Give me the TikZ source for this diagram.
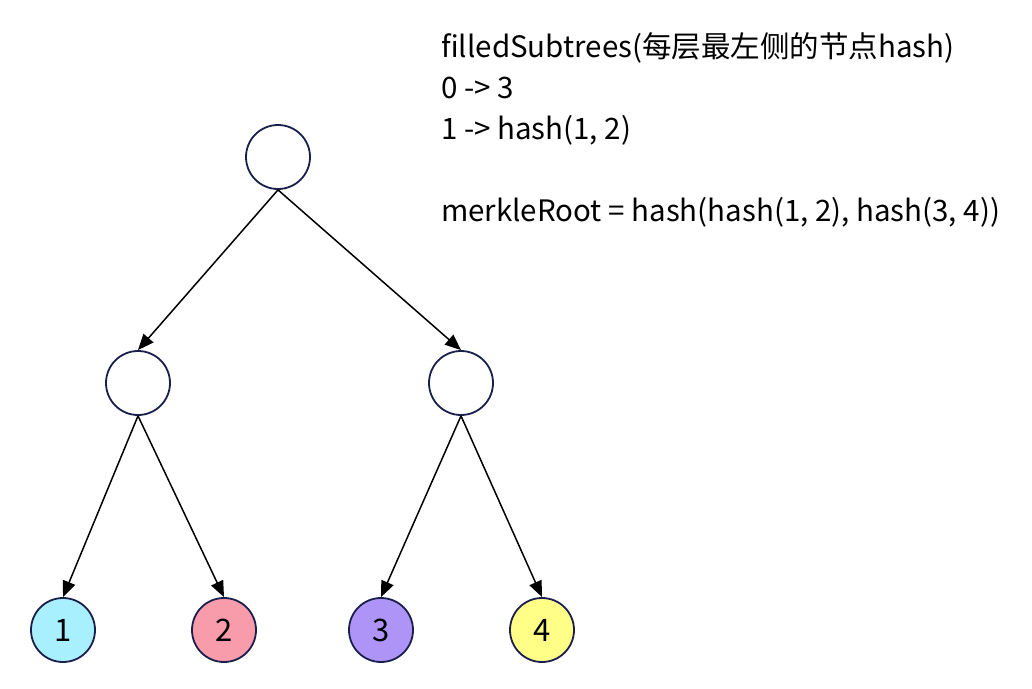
\documentclass[tikz,border=0pt]{standalone}
\usepackage{fontspec}
\setmainfont{Noto Sans CJK SC}
\usetikzlibrary{arrows.meta,shapes.geometric}

\definecolor{rim}{HTML}{1B1F4B}
\definecolor{leafA}{HTML}{A9F0FF}
\definecolor{leafB}{HTML}{F89CAC}
\definecolor{leafC}{HTML}{AE94F6}
\definecolor{leafD}{HTML}{FFFF88}

\tikzset{
    hnode/.style={draw=rim, line width=1.8pt, circle, minimum size=64pt, inner sep=0pt},
    leaf/.style={hnode, font=\fontsize{31}{36}\selectfont},
    edge/.style={line width=1.5pt, -{Triangle[length=16pt,width=13pt]}},
    info/.style={anchor=base west, inner sep=0pt, font=\fontsize{29.5}{34}\selectfont}
}

\begin{document}
\begin{tikzpicture}[x=1pt, y=-1pt]
    \useasboundingbox (0,0) rectangle (1032,688);

    % Tree nodes
    \node[hnode] (root) at (278,157) {};
    \node[hnode] (left) at (138,383) {};
    \node[hnode] (right) at (461,383) {};

    % Leaves
    \node[leaf, fill=leafA] (n1) at (63,630) {1};
    \node[leaf, fill=leafB] (n2) at (224,630) {2};
    \node[leaf, fill=leafC] (n3) at (381,630) {3};
    \node[leaf, fill=leafD] (n4) at (542,630) {4};

    % Edges
    \draw[edge] (root.south) -- (left.north);
    \draw[edge] (root.south) -- (right.north);
    \draw[edge] (left.south) -- (n1.north);
    \draw[edge] (left.south) -- (n2.north);
    \draw[edge] (right.south) -- (n3.north);
    \draw[edge] (right.south) -- (n4.north);

    % Notes
    \node[info] (t1) at (441,57) {filledSubtrees(每层最左侧的节点hash)};
    \node[info] (t2) at (441,98) {0 -> 3};
    \node[info] (t3) at (441,139) {1 -> hash(1, 2)};
    \node[info] (t4) at (441,221) {merkleRoot = hash(hash(1, 2), hash(3, 4))};
\end{tikzpicture}
\end{document}
